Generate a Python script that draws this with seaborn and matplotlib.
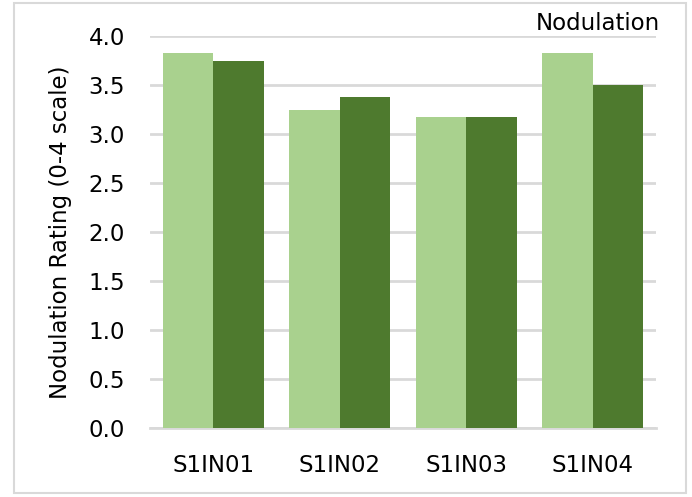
import pandas as pd
import seaborn as sns
import matplotlib.pyplot as plt
from matplotlib.patches import Rectangle

# Nodulation ratings per inoculant, two series (light / dark green)
inoculants = ["S1IN01", "S1IN02", "S1IN03", "S1IN04"]
series_a = [3.83, 3.25, 3.17, 3.83]
series_b = [3.75, 3.375, 3.17, 3.50]
series_names = ["Series 1", "Series 2"]
y_ticks = [0.0, 0.5, 1.0, 1.5, 2.0, 2.5, 3.0, 3.5, 4.0]

df = pd.DataFrame({
    "inoculant": inoculants * 2,
    "rating": series_a + series_b,
    "series": [series_names[0]] * 4 + [series_names[1]] * 4,
})

sns.set_style("white")
plt.rcParams["font.family"] = ["DejaVu Sans"]

fig = plt.figure(figsize=(6.92, 4.97), dpi=100)
ax = fig.add_axes([150 / 692, 1 - 428 / 497, 506 / 692, 392 / 497])

sns.barplot(
    data=df, x="inoculant", y="rating", hue="series",
    palette=["#a9d18e", "#4e7a2e"], width=0.8, legend=False,
    saturation=1, linewidth=0, ax=ax, zorder=3,
)

ax.set_ylim(0, 4)
ax.set_yticks(y_ticks)
ax.set_yticklabels([f"{t:.1f}" for t in y_ticks])
ax.yaxis.grid(True, color="#d9d9d9", linewidth=2, zorder=0)
ax.set_axisbelow(True)
for s in ["top", "right", "left"]:
    ax.spines[s].set_visible(False)
ax.spines["bottom"].set_color("#d9d9d9")
ax.spines["bottom"].set_linewidth(2)
ax.tick_params(axis="both", length=0, labelsize=16.5, colors="black")
ax.tick_params(axis="y", pad=18)
ax.tick_params(axis="x", pad=19)
ax.set_xlabel("")
ax.set_ylabel("Nodulation Rating (0-4 scale)", fontsize=16.5, color="black", labelpad=12)

fig.text(660 / 692, 1 - 24 / 497, "Nodulation", ha="right", va="center",
         fontsize=16.5, color="black")

# light gray frame around the chart
fig.patches.append(Rectangle((14 / 692, 4 / 497), 672 / 692, 490 / 497,
                             transform=fig.transFigure, fill=False,
                             edgecolor="#d9d9d9", linewidth=1.5))

fig.savefig("out.png", dpi=100)
